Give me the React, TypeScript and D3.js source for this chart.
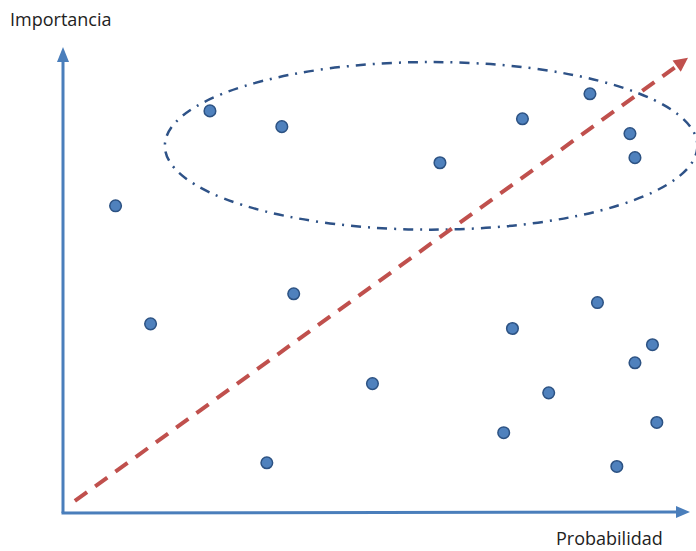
import React from "react";
import * as d3 from "d3";

const xLabel = "Probabilidad";
const yLabel = "Importancia";

const pointX = [23.4, 34.9, 8.3, 60.2, 73.4, 84.2, 90.6, 91.4, 13.9, 36.8, 49.4, 71.8, 85.4, 94.2, 91.4, 77.6, 70.4, 94.9, 88.5, 32.5];
const pointY = [87.0, 83.6, 66.5, 75.8, 85.3, 90.7, 82.1, 76.9, 41.0, 47.5, 28.1, 40.0, 45.6, 36.5, 32.6, 26.1, 17.5, 19.7, 10.2, 11.0];

const trendX = [1.9, 100];
const trendY = [2.6, 98.3];

const ellipseCenter = [58.9, 79.3];
const ellipseRadii = [42.6, 18.1];

const W = 696;
const H = 551;

export default function App() {
  const x = d3.scaleLinear().domain([0, 100]).range([63, 688]);
  const y = d3.scaleLinear().domain([0, 100]).range([513, 50]);

  const pts = pointX.map((v, i) => [x(v) + 0.7, y(pointY[i]) + 0.7]);

  const x1 = x(trendX[0]), y1 = y(trendY[0]);
  const x2 = x(trendX[1]), y2 = y(trendY[1]);
  const ang = Math.atan2(y2 - y1, x2 - x1);
  const ah = 14, aw = 7;
  const bx = x2 - ah * Math.cos(ang), by = y2 - ah * Math.sin(ang);
  const headR = [
    [x2, y2],
    [bx + aw * Math.sin(ang), by - aw * Math.cos(ang)],
    [bx - aw * Math.sin(ang), by + aw * Math.cos(ang)],
  ];

  const cx = x(ellipseCenter[0]);
  const cy = y(ellipseCenter[1]);
  const rx = x(ellipseRadii[0]) - x(0);
  const ry = y(0) - y(ellipseRadii[1]);

  const axisColor = "#4a7ebb";
  const x0 = x(0), yb = y(0), yt = y(100), xr = x(100);

  return (
    <svg width={W} height={H} style={{ position: "absolute", left: 0, top: 0 }}>
      <rect width={W} height={H} fill="#fff" />
      {/* axes */}
      <line x1={x0} y1={yb} x2={x0} y2={yt + 12} stroke={axisColor} strokeWidth={3} />
      <path d={`M${x0},${yt - 3} L${x0 - 6},${yt + 12} L${x0 + 6},${yt + 12} Z`} fill={axisColor} />
      <line x1={x0 - 1.5} y1={yb} x2={xr - 12} y2={yb - 1} stroke={axisColor} strokeWidth={3} />
      <path d={`M${xr + 2},${yb - 1} L${xr - 12},${yb - 7} L${xr - 12},${yb + 5} Z`} fill={axisColor} />

      {/* ellipse */}
      <ellipse cx={cx} cy={cy} rx={rx} ry={ry} fill="none" stroke="#2e5287" strokeWidth={2.5}
        strokeDasharray="10 7 2 7" />

      {/* trend line */}
      <line x1={x1} y1={y1} x2={bx} y2={by} stroke="#c0504d" strokeWidth={4} strokeDasharray="15 10" />
      <path d={`M${headR.map((p) => p.join(",")).join(" L")} Z`} fill="#c0504d" />

      {/* points */}
      {pts.map((p, i) => (
        <circle key={i} cx={p[0]} cy={p[1]} r={5.8} fill="#4f81bd" stroke="#2c5283" strokeWidth={1.5} />
      ))}

      <text x={10} y={26} fontFamily="'Open Sans', 'Noto Sans', sans-serif" fontSize={18} fill="#222">{yLabel}</text>
      <text x={556} y={545} fontFamily="'Open Sans', 'Noto Sans', sans-serif" fontSize={18} fill="#222">{xLabel}</text>
    </svg>
  );
}
